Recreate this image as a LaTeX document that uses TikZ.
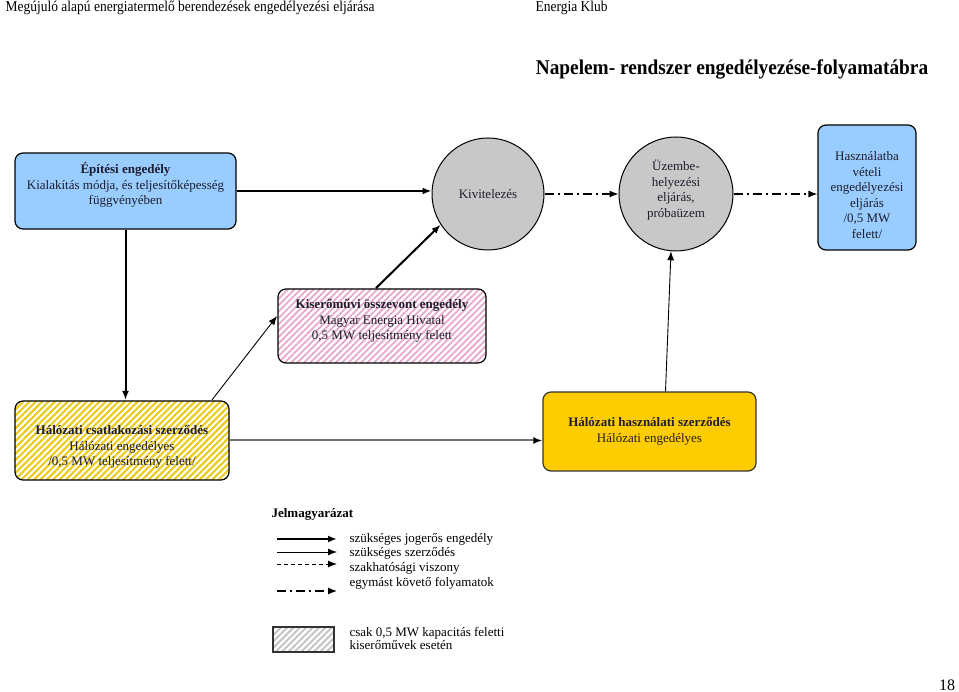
\documentclass[tikz,border=0pt]{standalone}
\usepackage{fontspec}
\setmainfont{Liberation Serif}
\newfontfamily\hdrfont[FakeStretch=0.9]{Liberation Serif}
\newfontfamily\ttlfont[FakeStretch=0.92]{Liberation Serif}
\usepackage{xcolor}
\usepackage{tikz}
\usetikzlibrary{calc}
\usetikzlibrary{patterns.meta}
\usetikzlibrary{arrows.meta}

\definecolor{boxblue}{HTML}{99CCFF}
\definecolor{circgray}{HTML}{C8C8C8}
\definecolor{netyellow}{HTML}{FFCC00}
\definecolor{hatchpink}{HTML}{E8A8CC}
\definecolor{hatchyellow}{HTML}{EBCB1E}
\definecolor{hatchgray}{HTML}{C4C4C4}
\definecolor{txtdark}{HTML}{1E1E2E}

% strut a szoveg fuggoleges igazitasahoz
\newcommand{\txtup}[1]{\rule[-#1]{0pt}{#1}}
\newcommand{\txtdown}[1]{\rule{0pt}{#1}}

\tikzset{>={Latex[length=9pt,width=7pt]},
	boxtext/.style={align=center, font=\fontsize{13}{15.5}\selectfont, text=txtdark},
	legtext/.style={anchor=west, font=\fontsize{13}{15}\selectfont},
	bluebox/.style={boxtext, draw=black, line width=1.2pt, rounded corners=8pt, fill=boxblue},
	circnode/.style={boxtext, circle, draw=black, line width=1pt, fill=circgray, inner sep=0pt},
	pinkbox/.style={boxtext, draw=black, line width=1.2pt, rounded corners=8pt,
		pattern={Lines[angle=45,distance=4.5pt,line width=1.8pt]}, pattern color=hatchpink},
	yellowhatch/.style={boxtext, draw=black, line width=1.2pt, rounded corners=8pt,
		pattern={Lines[angle=45,distance=4.5pt,line width=2.2pt]}, pattern color=hatchyellow},
	yellowbox/.style={boxtext, draw=black!80, line width=1.2pt, rounded corners=8pt, fill=netyellow},
	thickarr/.style={->, line width=2pt},
	thinarr/.style={->, line width=0.9pt},
	grayarr/.style={-{Latex[length=9pt,width=7pt,color=black]}, line width=2pt, draw=gray!90!black},
	chainarr/.style={->, line width=1.2pt, dash pattern=on 9pt off 4pt on 2pt off 4pt},
	dasharr/.style={->, line width=1pt, dash pattern=on 4pt off 3pt}
}

\begin{document}
\begin{tikzpicture}[x=1pt, y=-1pt]

	\useasboundingbox (0,0) rectangle (959,692);

	%% Fejlec
	\node[anchor=west, font=\hdrfont\fontsize{15}{15}\selectfont] (hdrl) at (2,8)
	{Megújuló alapú energiatermelő berendezések engedélyezési eljárása};
	\node[anchor=west, font=\hdrfont\fontsize{15}{15}\selectfont] (hdrr) at (532,8)
	{Energia Klub};
	\node[font=\ttlfont\bfseries\fontsize{21}{21}\selectfont] (title) at (732,69)
	{Napelem- rendszer engedélyezése-folyamatábra};

	% Felso sor
	\node[bluebox, minimum width=221pt, minimum height=76pt] (epit) at (125.5,191)
	{\textbf{Építési engedély}\\Kialakítás módja, és teljesítőképesség\\függvényében\txtup{15pt}};
	\node[circnode, minimum size=112pt] (kivit) at (488,194) {Kivitelezés};
	\node[circnode, minimum size=114pt] (uzem) at (676,194)
	{Üzembe-\\helyezési\\eljárás,\\próbaüzem\txtup{11pt}};
	\node[bluebox, minimum width=98pt, minimum height=125pt, inner sep=1pt] (haszn) at (867,187.5)
	{\txtdown{24pt}Használatba\\vételi\\engedélyezési\\eljárás\\/0,5 MW\\felett/};

	% Kozepso es also sor
	\node[pinkbox, minimum width=208pt, minimum height=74pt] (kiser) at (382,326)
	{\textbf{Kiserőművi összevont engedély}\\Magyar Energia Hivatal\\0,5 MW teljesítmény felett\txtup{13pt}};
	\node[yellowhatch, minimum width=214pt, minimum height=79pt] (csatl) at (122,440.5)
	{\txtdown{22pt}\textbf{Hálózati csatlakozási szerződés}\\Hálózati engedélyes\\/0,5 MW teljesítmény felett/};
	\node[yellowbox, minimum width=213pt, minimum height=79pt] (hhaszn) at (649.5,431.5)
	{\textbf{Hálózati használati szerződés}\\Hálózati engedélyes};

	%% Nyilak
	\draw[thickarr] (epit.east) -- (epit.east -| kivit.west);
	\draw[thickarr] (epit.south) -- (epit.south |- csatl.north);
	\draw[thickarr] ([xshift=-6pt]kiser.north) -- (kivit.213);
	\draw[thinarr] ([xshift=90pt]csatl.north) -- ([yshift=10pt]kiser.west);
	\draw[grayarr] (csatl.east) -- (csatl.east -| hhaszn.west);
	\draw[thinarr] ([xshift=16pt]hhaszn.north) -- (uzem.265);
	\draw[chainarr] (kivit.east) -- (uzem.west);
	\draw[chainarr] (uzem.east) -- (uzem.east -| haszn.west);

	%% Jelmagyarazat
	\node[legtext, font=\bfseries\fontsize{13}{15}\selectfont] (jelm) at (268,514) {Jelmagyarázat};
	\foreach \sty/\ya/\yt/\txt [count=\i] in {thickarr/539/539/szükséges jogerős engedély,
		thinarr/552/553/szükséges szerződés, dasharr/564/568/szakhatósági viszony,
		chainarr/591/583/egymást követő folyamatok}
	{
	\coordinate (la\i) at (277,\ya);
	\coordinate (lb\i) at (337,\ya);
	\draw[\sty] (la\i) -- (lb\i);
	\node[legtext] (lt\i) at (346,\yt) {\txt};
	}

	\node[draw=black!80, line width=1.5pt, inner sep=0pt, minimum width=61pt, minimum height=25pt,
		pattern={Lines[angle=45,distance=4.5pt,line width=2pt]}, pattern color=hatchgray]
	(legbox) at (303.5,639.5) {};
	\node[legtext, align=left, font=\fontsize{13}{13}\selectfont] (legboxt) at (346,638)
	{csak 0,5 MW kapacitás feletti\\kiserőművek esetén};

	% Oldalszam
	\node[font=\fontsize{16}{16}\selectfont] (pnum) at (947,685) {18};

\end{tikzpicture}
\end{document}
